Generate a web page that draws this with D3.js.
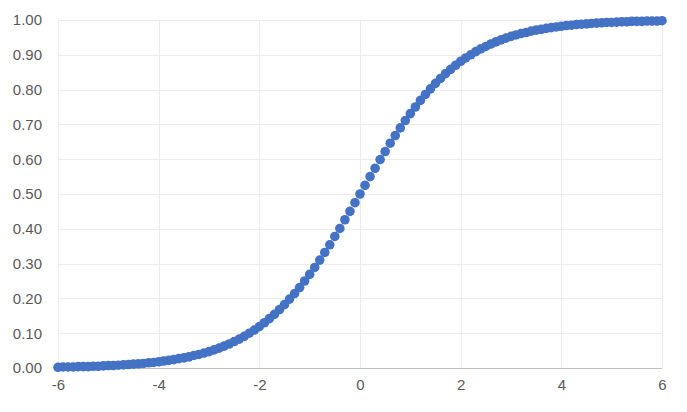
<!DOCTYPE html>
<html>
<head>
<meta charset="utf-8">
<script src="https://cdn.jsdelivr.net/npm/d3@7"></script>
<style>
  body { margin: 0; background: #fff; }
  text { font-family: "Liberation Sans", Arial, sans-serif; fill: #595959; }
</style>
</head>
<body>
<svg id="chart" width="687" height="412"></svg>
<script>
// x positions (step of 0.1 from -6 to 6)
var xValues = [
  -6.0, -5.9, -5.8, -5.7, -5.6, -5.5, -5.4, -5.3, -5.2, -5.1,
  -5.0, -4.9, -4.8, -4.7, -4.6, -4.5, -4.4, -4.3, -4.2, -4.1,
  -4.0, -3.9, -3.8, -3.7, -3.6, -3.5, -3.4, -3.3, -3.2, -3.1,
  -3.0, -2.9, -2.8, -2.7, -2.6, -2.5, -2.4, -2.3, -2.2, -2.1,
  -2.0, -1.9, -1.8, -1.7, -1.6, -1.5, -1.4, -1.3, -1.2, -1.1,
  -1.0, -0.9, -0.8, -0.7, -0.6, -0.5, -0.4, -0.3, -0.2, -0.1,
  0.0, 0.1, 0.2, 0.3, 0.4, 0.5, 0.6, 0.7, 0.8, 0.9,
  1.0, 1.1, 1.2, 1.3, 1.4, 1.5, 1.6, 1.7, 1.8, 1.9,
  2.0, 2.1, 2.2, 2.3, 2.4, 2.5, 2.6, 2.7, 2.8, 2.9,
  3.0, 3.1, 3.2, 3.3, 3.4, 3.5, 3.6, 3.7, 3.8, 3.9,
  4.0, 4.1, 4.2, 4.3, 4.4, 4.5, 4.6, 4.7, 4.8, 4.9,
  5.0, 5.1, 5.2, 5.3, 5.4, 5.5, 5.6, 5.7, 5.8, 5.9,
  6.0
];

// y values of the s-curve
var yValues = [
  0.002, 0.003, 0.003, 0.003, 0.004, 0.004, 0.004, 0.005, 0.005, 0.006,
  0.007, 0.007, 0.008, 0.009, 0.010, 0.011, 0.012, 0.013, 0.015, 0.016,
  0.018, 0.020, 0.022, 0.024, 0.027, 0.029, 0.032, 0.036, 0.039, 0.043,
  0.047, 0.052, 0.057, 0.063, 0.069, 0.076, 0.083, 0.091, 0.100, 0.109,
  0.119, 0.130, 0.142, 0.154, 0.168, 0.182, 0.198, 0.214, 0.231, 0.250,
  0.269, 0.289, 0.310, 0.332, 0.354, 0.378, 0.401, 0.426, 0.450, 0.475,
  0.500, 0.525, 0.550, 0.574, 0.599, 0.622, 0.646, 0.668, 0.690, 0.711,
  0.731, 0.750, 0.769, 0.786, 0.802, 0.818, 0.832, 0.846, 0.858, 0.870,
  0.881, 0.891, 0.900, 0.909, 0.917, 0.924, 0.931, 0.937, 0.943, 0.948,
  0.953, 0.957, 0.961, 0.964, 0.968, 0.971, 0.973, 0.976, 0.978, 0.980,
  0.982, 0.984, 0.985, 0.987, 0.988, 0.989, 0.990, 0.991, 0.992, 0.993,
  0.993, 0.994, 0.995, 0.995, 0.996, 0.996, 0.996, 0.997, 0.997, 0.997,
  0.998
];

var xTicks = [-6, -4, -2, 0, 2, 4, 6];
var yTicks = [0, 0.1, 0.2, 0.3, 0.4, 0.5, 0.6, 0.7, 0.8, 0.9, 1.0];

var svg = d3.select('#chart');

var x = d3.scaleLinear().domain([-6, 6]).range([58, 662]);
var y = d3.scaleLinear().domain([0, 1]).range([368, 20]);

// gridlines
svg.append('g')
  .selectAll('line.h')
  .data(yTicks.slice(1))
  .enter()
  .append('line')
    .attr('x1', x(-6)).attr('x2', x(6))
    .attr('y1', function (d) { return Math.round(y(d)) + 0.5 })
    .attr('y2', function (d) { return Math.round(y(d)) + 0.5 })
    .attr('stroke', '#ececec')

svg.append('g')
  .selectAll('line.v')
  .data(xTicks)
  .enter()
  .append('line')
    .attr('x1', function (d) { return Math.round(x(d)) + 0.5 })
    .attr('x2', function (d) { return Math.round(x(d)) + 0.5 })
    .attr('y1', y(1)).attr('y2', y(0))
    .attr('stroke', '#ececec')

// x axis line at zero
svg.append('line')
  .attr('x1', x(-6)).attr('x2', x(6))
  .attr('y1', Math.round(y(0)) + 0.5).attr('y2', Math.round(y(0)) + 0.5)
  .attr('stroke', '#bfbfbf')

// tick labels
var yAxis = d3.axisLeft(y).tickValues(yTicks).tickFormat(function (d) { return d.toFixed(2) }).tickSize(0).tickPadding(16);
svg.append('g')
  .attr('transform', 'translate(' + x(-6) + ',0)')
  .call(yAxis)
  .call(function (g) { g.select('.domain').remove() })
  .selectAll('text')
    .attr('font-size', '15px')
    .attr('fill', '#595959');

// plain hyphen for negatives, like the original
var xAxis = d3.axisBottom(x).tickValues(xTicks).tickFormat(function (d) { return String(d) }).tickSize(0).tickPadding(11);
svg.append('g')
  .attr('transform', 'translate(0,' + y(0) + ')')
  .call(xAxis)
  .call(function (g) { g.select('.domain').remove() })
  .selectAll('text')
    .attr('font-size', '15px')
    .attr('fill', '#595959');

svg.selectAll('.tick text').style('font-family', '"Liberation Sans", Arial, sans-serif');

// points
svg.append('g')
  .selectAll('circle')
  .data(xValues)
  .enter()
  .append('circle')
    .attr('cx', function (d) { return x(d) })
    .attr('cy', function (d, i) { return y(yValues[i]) })
    .attr('r', 4.8)
    .attr('fill', '#4472c4')
</script>
</body>
</html>
